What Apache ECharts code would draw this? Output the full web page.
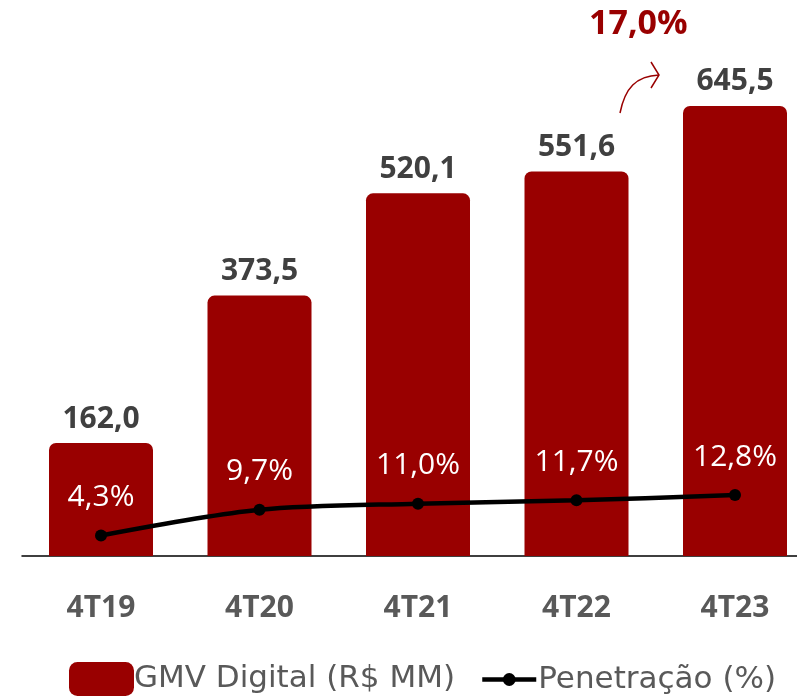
<!DOCTYPE html>
<html>
<head>
<meta charset="utf-8">
<script src="https://cdn.jsdelivr.net/npm/echarts@6/dist/echarts.min.js"></script>
<style>
    html, body { margin: 0; padding: 0; background: #fff; }
    #chart { width: 797px; height: 697px; }
</style>
</head>
<body>
<div id="chart"></div>
<script>
// dados
const categorias = ['4T19', '4T20', '4T21', '4T22', '4T23'];
const gmvDigital = [162.0, 373.5, 520.1, 551.6, 645.5];
const penetracao = [4.3, 9.7, 11.0, 11.7, 12.8];
const destaque = '17,0%';

const vermelho = '#990000';
const fonte = '"Open Sans", sans-serif';
const fonteLegenda = '"DejaVu Sans", sans-serif';
const fmt = (v, casas) => v.toFixed(casas).replace('.', ',');

let myChart = echarts.init(document.getElementById('chart'));

let option = {
    animation: false,
    textStyle: { fontFamily: fonte },
    // grid 0: dados (categorias nos ticks), grid 1: só a linha de base
    grid: [
        { left: 101, right: 62, top: 100, bottom: 141 },
        { left: 22, right: 0, top: 100, bottom: 141 }
    ],
    legend: [
        {
            data: ['GMV Digital (R$ MM)'],
            left: 64, top: 657,
            itemWidth: 65, itemHeight: 34,
            itemGap: 0,
            itemStyle: { borderRadius: 6 },
            textStyle: { fontSize: 31, color: '#595959', fontFamily: fonteLegenda, padding: [0, 0, 0, -5] }
        },
        {
            data: ['Penetração (%)'],
            left: 475, top: 659,
            itemWidth: 54, itemHeight: 16,
            lineStyle: { width: 4.5 },
            textStyle: { fontSize: 31, color: '#595959', fontFamily: fonteLegenda, padding: [0, 0, 0, -3] }
        }
    ],
    xAxis: [
        {
            type: 'category',
            gridIndex: 0,
            data: categorias,
            boundaryGap: false,
            axisLine: { show: false },
            axisTick: { show: false },
            axisLabel: { margin: 37, fontSize: 30, fontWeight: 'bold', color: '#595959', fontFamily: fonte }
        },
        {
            type: 'value',
            gridIndex: 1,
            min: 0, max: 1,
            axisLine: { show: true, onZero: false, lineStyle: { color: '#000', width: 1.5 } },
            axisTick: { show: false },
            axisLabel: { show: false },
            splitLine: { show: false }
        }
    ],
    yAxis: [
        { type: 'value', gridIndex: 0, min: 0, max: 654, show: false },
        { type: 'value', gridIndex: 0, min: 0, max: 95.8, show: false },
        { type: 'value', gridIndex: 1, min: 0, max: 1, show: false }
    ],
    series: [
        {
            name: 'GMV Digital (R$ MM)',
            type: 'bar',
            data: gmvDigital,
            barWidth: 104,
            clip: false,
            itemStyle: { color: vermelho, borderRadius: [7, 7, 0, 0] },
            label: {
                show: true,
                position: 'top',
                distance: 9,
                fontSize: 30,
                fontWeight: 'bold',
                color: '#404040',
                fontFamily: fonte,
                formatter: (p) => fmt(p.value, 1)
            },
            z: 1
        },
        {
            name: 'Penetração (%)',
            type: 'line',
            yAxisIndex: 1,
            data: penetracao,
            smooth: 0.3,
            symbol: 'circle',
            symbolSize: 12,
            lineStyle: { color: '#000', width: 4.5 },
            itemStyle: { color: '#000' },
            label: {
                show: true,
                position: 'top',
                distance: 17,
                fontSize: 30,
                color: '#fff',
                fontFamily: fonte,
                formatter: (p) => fmt(p.value, 1) + '%'
            },
            z: 3
        }
    ],
    graphic: [
        {
            type: 'text',
            left: 589, top: 7,
            style: { text: destaque, fontSize: 34, fontWeight: 'bold', fill: vermelho, fontFamily: fonte }
        },
        {
            type: 'bezierCurve',
            shape: { x1: 620, y1: 113, cpx1: 625, cpy1: 88, cpx2: 636, cpy2: 76, x2: 659, y2: 75 },
            style: { stroke: vermelho, lineWidth: 1.5, fill: null }
        },
        {
            type: 'polyline',
            shape: { points: [[651, 62], [659, 75], [651, 88]] },
            style: { stroke: vermelho, lineWidth: 1.5, fill: null }
        }
    ]
};
myChart.setOption(option);
</script>
</body>
</html>
